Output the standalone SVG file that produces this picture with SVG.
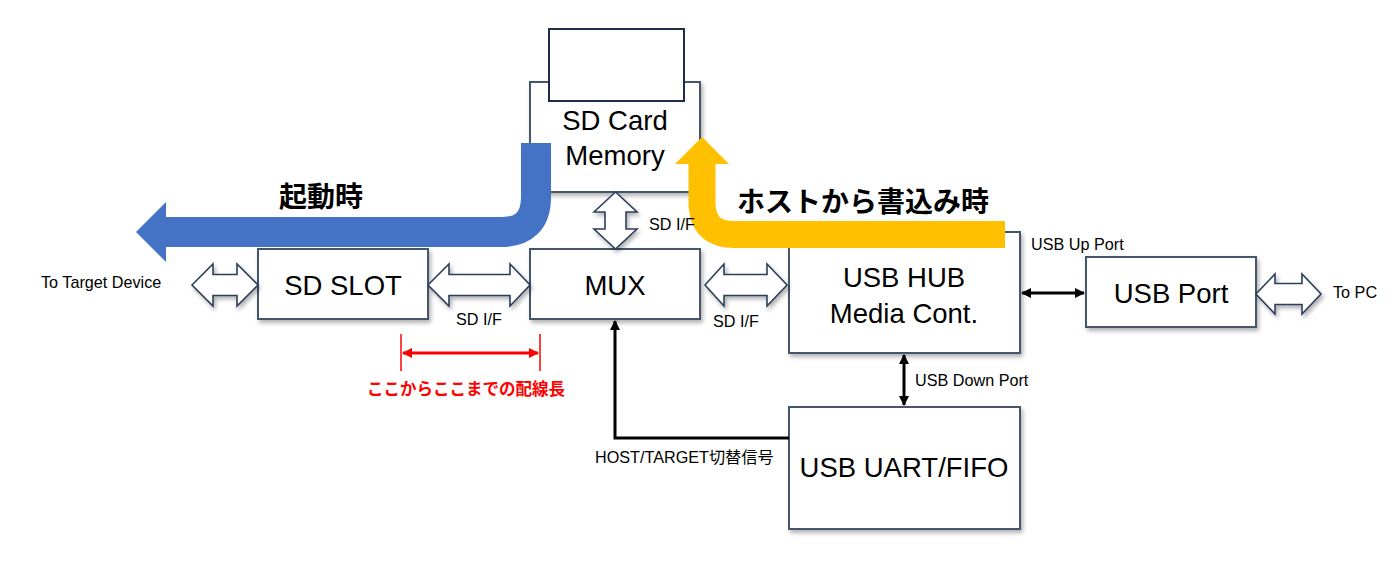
<svg xmlns="http://www.w3.org/2000/svg" width="1400" height="583" viewBox="0 0 1400 583">
  <defs>
    <filter id="sh" x="-10%" y="-10%" width="130%" height="140%">
      <feDropShadow dx="2" dy="3" stdDeviation="2" flood-color="#000" flood-opacity="0.3"/>
    </filter>
    <marker id="ab" viewBox="0 0 10 10" refX="9" refY="5" markerWidth="10" markerHeight="10" markerUnits="userSpaceOnUse" orient="auto-start-reverse">
      <path d="M0,0 L10,5 L0,10 z" fill="#000"/>
    </marker>
    <marker id="ar" viewBox="0 0 10 10" refX="9" refY="5" markerWidth="10" markerHeight="10" markerUnits="userSpaceOnUse" orient="auto-start-reverse">
      <path d="M0,0 L10,5 L0,10 z" fill="#FF0000"/>
    </marker>
  </defs>
  <style>
    .box { fill: #fff; stroke: #44546A; stroke-width: 2; filter: url(#sh); }
    .harrow { fill: #fff; stroke: #2F3E5C; stroke-width: 1.6; stroke-linejoin: miter; filter: url(#sh); }
    .big { font-family: "Liberation Sans", "Noto Sans CJK JP", sans-serif; font-size: 27.5px; fill: #000; text-anchor: middle; }
    .sm { font-family: "Liberation Sans", "Noto Sans CJK JP", sans-serif; font-size: 16.2px; fill: #000; }
    .jp { font-family: "Noto Sans CJK JP", sans-serif; font-size: 28px; font-weight: bold; fill: #000; text-anchor: middle; }
    .red { font-family: "Noto Sans CJK JP", sans-serif; font-size: 16.5px; font-weight: bold; fill: #FF0000; text-anchor: middle; }
    .line { fill: none; stroke: #000; stroke-width: 3; }
  </style>

  <g id="sd-card-memory">
    <rect class="box" x="530" y="82" width="170" height="110"/>
    <rect x="549" y="29" width="135" height="72" fill="#fff" stroke="#1F2D4D" stroke-width="2"/>
    <text class="big" x="615" y="130">SD Card</text>
    <text class="big" x="615" y="165">Memory</text>
  </g>
  <g id="sd-slot">
    <rect class="box" x="258" y="249" width="170" height="70"/>
    <text class="big" x="343" y="295">SD SLOT</text>
  </g>
  <g id="mux">
    <rect class="box" x="530" y="249" width="170" height="70"/>
    <text class="big" x="615" y="295">MUX</text>
  </g>
  <g id="usb-hub">
    <rect class="box" x="789" y="232" width="231" height="121"/>
    <text class="big" x="904" y="287">USB HUB</text>
    <text class="big" x="904" y="323">Media Cont.</text>
  </g>
  <g id="usb-port">
    <rect class="box" x="1086" y="257" width="170" height="70"/>
    <text class="big" x="1171" y="303">USB Port</text>
  </g>
  <g id="usb-uart">
    <rect class="box" x="789" y="407" width="231" height="122"/>
    <text class="big" x="904" y="477">USB UART/FIFO</text>
  </g>

  <g id="connectors">
    <polygon class="harrow" points="192,285 213,264 213,274.5 237,274.5 237,264 258,285 237,306 237,295.5 213,295.5 213,306"/>
    <polygon class="harrow" points="428,285 449,264 449,274.5 510,274.5 510,264 530,285 510,306 510,295.5 449,295.5 449,306"/>
    <polygon class="harrow" points="705,285 724,264 724,274.5 767,274.5 767,264 787,285 767,306 767,295.5 724,295.5 724,306"/>
    <polygon class="harrow" points="1256,294 1275,274 1275,283.5 1302,283.5 1302,274 1321,294 1302,314 1302,304.5 1275,304.5 1275,314"/>
    <polygon class="harrow" points="615.5,192 637,212 626,212 626,229 637,229 615.5,249 594,229 605,229 605,212 594,212"/>
    <line class="line" x1="1022" y1="293" x2="1084" y2="293" marker-start="url(#ab)" marker-end="url(#ab)"/>
    <line class="line" x1="904" y1="355" x2="904" y2="405" marker-start="url(#ab)" marker-end="url(#ab)"/>
    <path class="line" d="M789,438 H615 V321" marker-end="url(#ab)"/>
    <line x1="401" y1="334" x2="401" y2="371" stroke="#FF0000" stroke-width="1.5"/>
    <line x1="540" y1="334" x2="540" y2="371" stroke="#FF0000" stroke-width="1.5"/>
    <line x1="403" y1="353" x2="538" y2="353" stroke="#FF0000" stroke-width="3" marker-start="url(#ar)" marker-end="url(#ar)"/>
    <path d="M536,143 V197 Q536,232 501,232 H165" fill="none" stroke="#4472C4" stroke-width="30"/>
    <polygon points="166,202 136,232 166,262" fill="#4472C4"/>
    <path d="M1005,234.5 H734 Q702,234.5 702,202 V163" fill="none" stroke="#FFC000" stroke-width="27"/>
    <polygon points="675,164 702,137 729,164" fill="#FFC000"/>
  </g>

  <g id="labels">
    <text class="jp" x="321" y="207">起動時</text>
    <text class="jp" x="863" y="212">ホストから書込み時</text>
    <text class="sm" x="41" y="288">To Target Device</text>
    <text class="sm" x="456" y="325">SD I/F</text>
    <text class="sm" x="649" y="230">SD I/F</text>
    <text class="sm" x="713" y="327">SD I/F</text>
    <text class="sm" x="1031" y="250">USB Up Port</text>
    <text class="sm" x="1333" y="298">To PC</text>
    <text class="sm" x="915" y="386">USB Down Port</text>
    <text class="sm" x="595" y="463">HOST/TARGET切替信号</text>
    <text class="red" x="466" y="395">ここからここまでの配線長</text>
  </g>
</svg>
